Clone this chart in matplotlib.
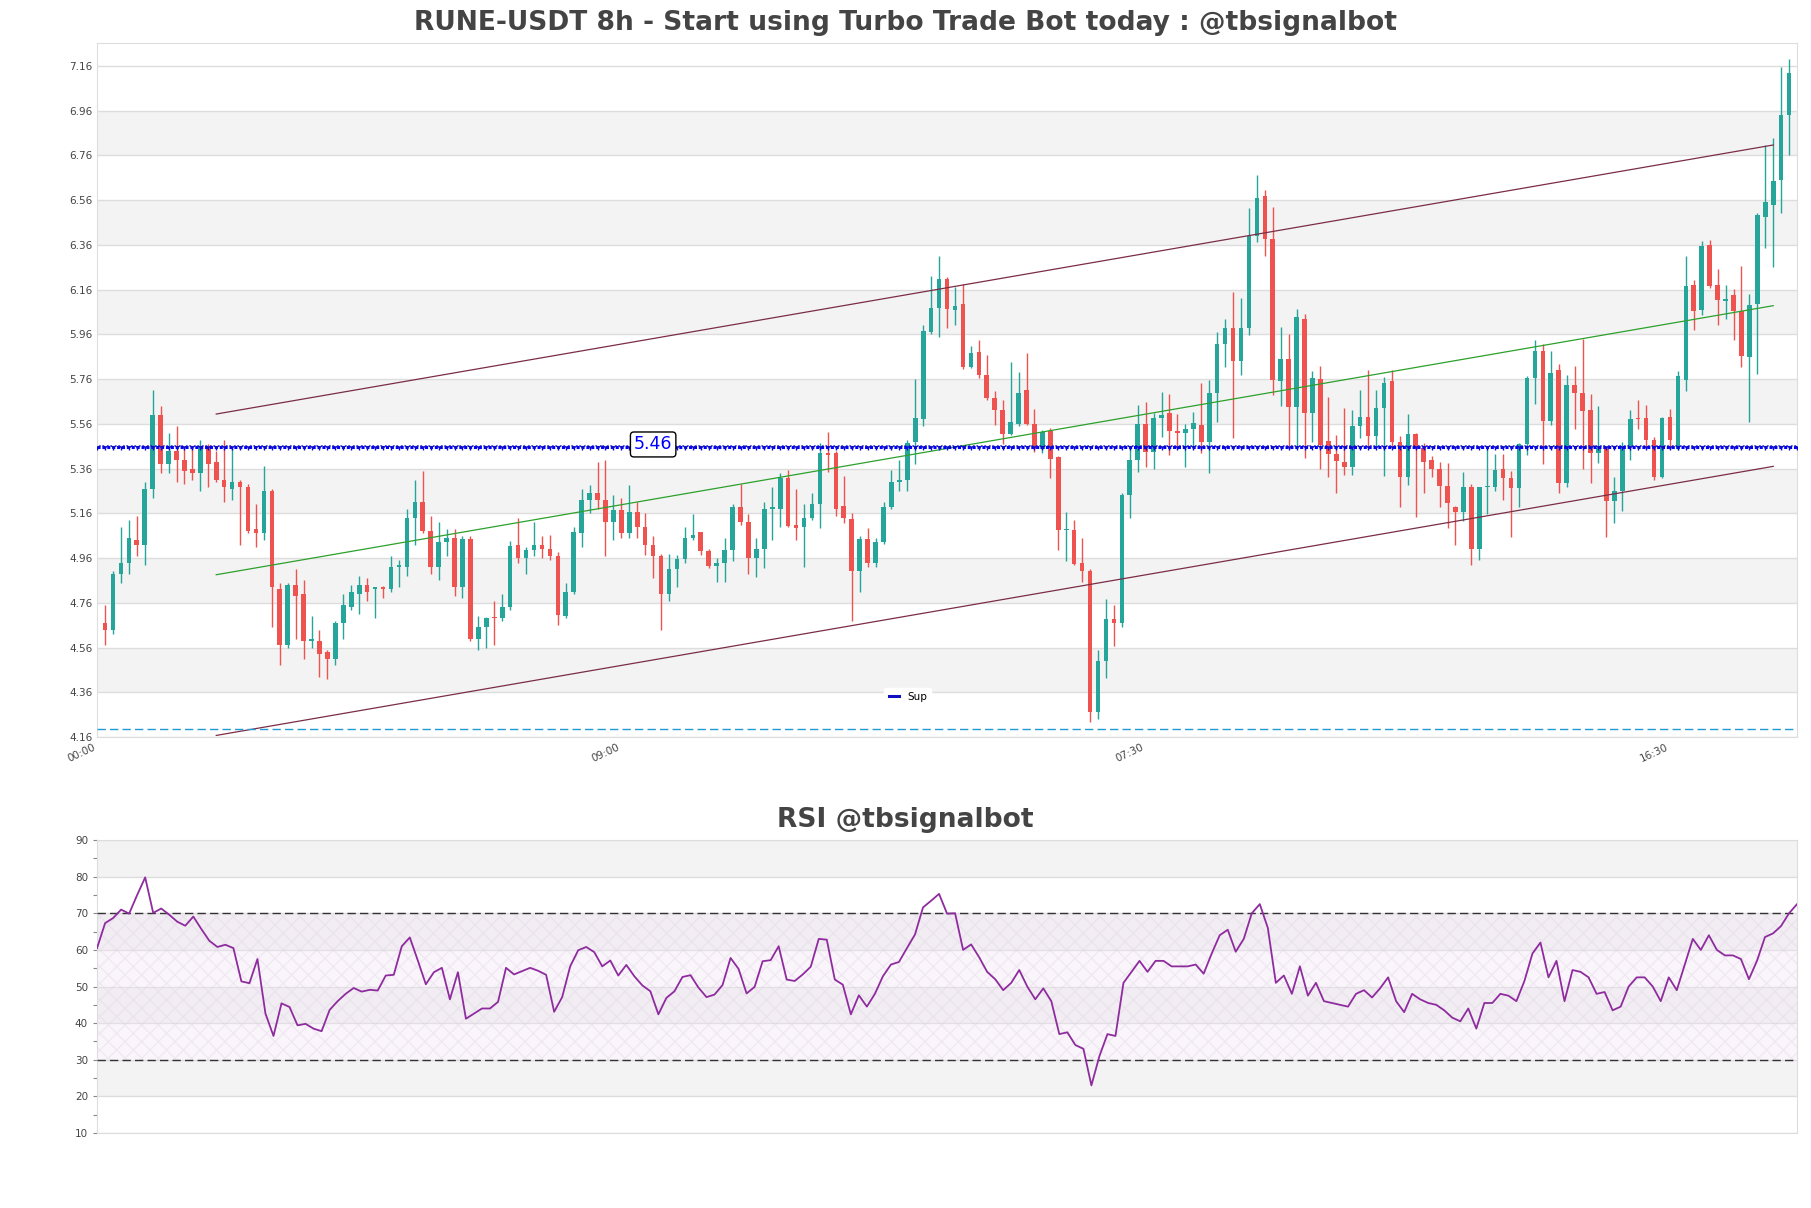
import numpy as np
import matplotlib
matplotlib.use("Agg")
import matplotlib.pyplot as plt
from matplotlib.lines import Line2D

# dane (swiece 8h)
opens = [4.67, 4.64, 4.89, 4.94, 5.04, 5.02, 5.27, 5.60, 5.38, 5.44,
         5.40, 5.36, 5.34, 5.46, 5.39, 5.31, 5.27, 5.30, 5.28, 5.09,
         5.07, 5.26, 4.82, 4.57, 4.84, 4.80, 4.59, 4.59, 4.54, 4.51,
         4.67, 4.74, 4.80, 4.84, 4.82, 4.83, 4.82, 4.92, 4.92, 5.14,
         5.21, 5.08, 4.92, 5.03, 5.05, 4.83, 5.045, 4.60, 4.65, 4.695,
         4.69, 4.74, 5.02, 4.96, 4.995, 5.02, 5.00, 4.97, 4.70, 4.81,
         5.07, 5.22, 5.25, 5.22, 5.12, 5.175, 5.07, 5.165, 5.10, 5.02,
         4.97, 4.80, 4.91, 4.955, 5.05, 5.075, 4.99, 4.925, 4.94, 4.995,
         5.19, 5.12, 4.96, 5.00, 5.18, 5.18, 5.32, 5.11, 5.10, 5.14,
         5.20, 5.43, 5.43, 5.195, 5.135, 4.90, 5.045, 4.94, 5.03, 5.19,
         5.30, 5.31, 5.48, 5.58, 5.97, 6.08, 6.21, 6.07, 6.095, 5.815,
         5.88, 5.78, 5.677, 5.62, 5.515, 5.56, 5.71, 5.56, 5.447, 5.528,
         5.41, 5.085, 5.085, 4.94, 4.90, 4.27, 4.50, 4.687, 4.67, 5.24,
         5.40, 5.56, 5.436, 5.588, 5.608, 5.526, 5.52, 5.536, 5.555, 5.48,
         5.697, 5.918, 5.99, 5.84, 5.99, 6.40, 6.58, 6.385, 5.75, 5.85,
         5.635, 6.03, 5.61, 5.76, 5.484, 5.426, 5.39, 5.366, 5.55, 5.59,
         5.506, 5.633, 5.75, 5.48, 5.324, 5.515, 5.45, 5.40, 5.36, 5.282,
         5.19, 5.165, 5.28, 5.00, 5.276, 5.276, 5.358, 5.32, 5.273, 5.47,
         5.766, 5.884, 5.575, 5.80, 5.294, 5.735, 5.70, 5.62, 5.43, 5.455,
         5.214, 5.258, 5.46, 5.585, 5.588, 5.488, 5.321, 5.593, 5.448, 5.754,
         6.183, 6.067, 6.358, 6.18, 6.11, 6.135, 6.064, 5.86, 6.097, 6.485,
         6.54, 6.65, 6.94]

closes = [4.64, 4.89, 4.94, 5.05, 5.02, 5.27, 5.60, 5.38, 5.44, 5.40,
          5.35, 5.34, 5.46, 5.38, 5.31, 5.28, 5.30, 5.28, 5.08, 5.07,
          5.26, 4.83, 4.57, 4.84, 4.79, 4.59, 4.595, 4.53, 4.51, 4.67,
          4.75, 4.81, 4.84, 4.81, 4.83, 4.82, 4.92, 4.925, 5.14, 5.21,
          5.08, 4.92, 5.03, 5.05, 4.83, 5.045, 4.60, 4.65, 4.69, 4.69,
          4.74, 5.015, 4.96, 4.995, 5.02, 5.00, 4.97, 4.705, 4.81, 5.075,
          5.22, 5.25, 5.22, 5.12, 5.175, 5.07, 5.165, 5.10, 5.02, 4.97,
          4.80, 4.91, 4.955, 5.05, 5.065, 4.99, 4.925, 4.94, 4.995, 5.19,
          5.12, 4.96, 5.00, 5.18, 5.19, 5.32, 5.105, 5.095, 5.14, 5.20,
          5.43, 5.42, 5.18, 5.14, 4.90, 5.047, 4.94, 5.03, 5.19, 5.30,
          5.31, 5.474, 5.585, 5.975, 6.08, 6.21, 6.074, 6.085, 5.815, 5.875,
          5.78, 5.677, 5.62, 5.517, 5.567, 5.70, 5.56, 5.447, 5.525, 5.403,
          5.086, 5.09, 4.933, 4.90, 4.27, 4.50, 4.687, 4.67, 5.242, 5.40,
          5.56, 5.436, 5.588, 5.60, 5.526, 5.52, 5.536, 5.563, 5.48, 5.697,
          5.918, 5.988, 5.84, 5.988, 6.40, 6.57, 6.387, 5.754, 5.85, 5.635,
          6.04, 5.61, 5.767, 5.466, 5.426, 5.392, 5.366, 5.55, 5.593, 5.506,
          5.633, 5.745, 5.48, 5.324, 5.515, 5.447, 5.39, 5.36, 5.282, 5.205,
          5.168, 5.28, 5.00, 5.276, 5.28, 5.354, 5.32, 5.273, 5.47, 5.766,
          5.884, 5.575, 5.787, 5.294, 5.732, 5.697, 5.617, 5.43, 5.453, 5.214,
          5.258, 5.463, 5.582, 5.58, 5.488, 5.321, 5.587, 5.488, 5.772, 6.175,
          6.064, 6.354, 6.175, 6.115, 6.12, 6.064, 5.862, 6.09, 6.493, 6.553,
          6.647, 6.94, 7.127]

highs = [4.75, 4.90, 5.10, 5.13, 5.15, 5.30, 5.71, 5.64, 5.52, 5.55,
         5.46, 5.46, 5.49, 5.47, 5.44, 5.49, 5.45, 5.31, 5.29, 5.20,
         5.37, 5.27, 4.85, 4.85, 4.91, 4.86, 4.70, 4.64, 4.55, 4.68,
         4.80, 4.84, 4.88, 4.87, 4.83, 4.835, 4.97, 4.95, 5.18, 5.31,
         5.35, 5.15, 5.12, 5.09, 5.09, 5.06, 5.06, 4.70, 4.695, 4.77,
         4.80, 5.035, 5.14, 5.01, 5.12, 5.06, 5.065, 4.985, 4.85, 5.10,
         5.27, 5.285, 5.39, 5.40, 5.24, 5.23, 5.285, 5.21, 5.16, 5.06,
         4.98, 4.98, 4.975, 5.10, 5.155, 5.075, 5.00, 4.96, 5.05, 5.20,
         5.29, 5.155, 5.05, 5.21, 5.28, 5.34, 5.355, 5.27, 5.20, 5.25,
         5.475, 5.525, 5.44, 5.325, 5.16, 5.06, 5.094, 5.05, 5.21, 5.356,
         5.40, 5.49, 5.76, 6.003, 6.22, 6.31, 6.215, 6.17, 6.187, 5.91,
         5.937, 5.87, 5.708, 5.666, 5.836, 5.79, 5.876, 5.627, 5.533, 5.54,
         5.416, 5.165, 5.13, 5.05, 4.91, 4.55, 4.776, 4.75, 5.25, 5.458,
         5.645, 5.657, 5.61, 5.702, 5.693, 5.603, 5.56, 5.612, 5.742, 5.757,
         5.973, 6.028, 6.15, 6.123, 6.526, 6.675, 6.605, 6.53, 5.993, 5.963,
         6.073, 6.053, 5.797, 5.82, 5.68, 5.51, 5.633, 5.623, 5.712, 5.802,
         5.712, 5.769, 5.80, 5.506, 5.605, 5.52, 5.476, 5.416, 5.39, 5.384,
         5.195, 5.344, 5.29, 5.28, 5.448, 5.426, 5.426, 5.35, 5.473, 5.776,
         5.936, 5.915, 5.888, 5.826, 5.78, 5.821, 5.94, 5.694, 5.642, 5.458,
         5.324, 5.478, 5.62, 5.668, 5.646, 5.50, 5.593, 5.627, 5.796, 6.309,
         6.202, 6.376, 6.381, 6.254, 6.18, 6.165, 6.264, 6.142, 6.503, 6.806,
         6.839, 7.154, 7.19]

lows = [4.57, 4.62, 4.85, 4.89, 4.97, 4.93, 5.23, 5.34, 5.34, 5.30,
        5.29, 5.31, 5.26, 5.28, 5.30, 5.21, 5.22, 5.02, 5.07, 5.01,
        5.04, 4.65, 4.48, 4.56, 4.60, 4.51, 4.56, 4.43, 4.42, 4.48,
        4.60, 4.73, 4.71, 4.77, 4.69, 4.78, 4.81, 4.83, 4.88, 5.02,
        5.07, 4.89, 4.86, 4.97, 4.79, 4.78, 4.59, 4.55, 4.56, 4.57,
        4.68, 4.73, 4.94, 4.89, 4.97, 4.96, 4.95, 4.66, 4.69, 4.80,
        5.01, 5.16, 5.18, 4.97, 5.04, 5.05, 5.05, 5.05, 4.975, 4.87,
        4.64, 4.77, 4.83, 4.94, 5.04, 4.975, 4.915, 4.855, 4.855, 4.945,
        5.11, 4.89, 4.875, 4.915, 5.04, 5.10, 5.10, 5.04, 4.92, 5.13,
        5.095, 5.345, 5.15, 5.115, 4.68, 4.81, 4.92, 4.92, 5.025, 5.18,
        5.26, 5.26, 5.38, 5.55, 5.96, 5.95, 5.99, 6.00, 5.807, 5.81,
        5.763, 5.666, 5.553, 5.47, 5.51, 5.552, 5.553, 5.435, 5.43, 5.32,
        4.995, 4.945, 4.927, 4.855, 4.225, 4.24, 4.425, 4.565, 4.65, 5.138,
        5.347, 5.366, 5.357, 5.503, 5.421, 5.447, 5.366, 5.46, 5.432, 5.339,
        5.57, 5.814, 5.496, 5.78, 5.958, 6.372, 6.312, 5.69, 5.64, 5.46,
        5.46, 5.406, 5.48, 5.36, 5.324, 5.25, 5.332, 5.332, 5.496, 5.458,
        5.46, 5.327, 5.458, 5.19, 5.287, 5.145, 5.25, 5.324, 5.187, 5.093,
        5.018, 5.127, 4.93, 4.95, 5.157, 5.258, 5.22, 5.055, 5.187, 5.423,
        5.65, 5.38, 5.557, 5.25, 5.276, 5.538, 5.358, 5.294, 5.384, 5.053,
        5.115, 5.169, 5.40, 5.538, 5.452, 5.309, 5.32, 5.448, 5.444, 5.706,
        5.981, 6.045, 6.169, 6.00, 6.03, 5.933, 5.814, 5.567, 5.784, 6.348,
        6.261, 6.503, 6.76]

rsi = [60.5, 67.3, 68.7, 71.0, 69.9, 75.0, 79.8, 70.1, 71.3, 69.6,
       67.7, 66.6, 69.1, 65.7, 62.5, 60.8, 61.4, 60.5, 51.4, 50.9,
       57.5, 42.6, 36.5, 45.4, 44.4, 39.4, 39.8, 38.5, 37.8, 43.6,
       46.0, 48.0, 49.6, 48.6, 49.1, 48.9, 53.0, 53.2, 61.0, 63.4,
       57.1, 50.6, 53.9, 55.1, 46.5, 53.9, 41.2, 42.6, 44.0, 44.0,
       45.8, 55.1, 53.3, 54.2, 55.1, 54.3, 53.2, 43.1, 47.1, 55.5,
       59.9, 60.8, 59.4, 55.5, 57.1, 53.0, 55.9, 52.8, 50.3, 48.7,
       42.4, 46.9, 48.7, 52.6, 53.1, 49.7, 47.1, 47.8, 50.4, 57.8,
       54.8, 48.1, 49.9, 56.9, 57.2, 61.0, 51.9, 51.5, 53.3, 55.4,
       63.0, 62.8, 51.9, 50.5, 42.4, 47.6, 44.5, 48.0, 52.8, 56.0,
       56.7, 60.5, 64.2, 71.6, 73.4, 75.3, 69.9, 70.0, 60.0, 61.5,
       58.0, 54.0, 52.0, 49.0, 51.0, 54.5, 50.0, 46.5, 49.5, 46.0,
       37.0, 37.5, 34.0, 33.0, 23.0, 31.0, 37.0, 36.5, 51.0, 54.0,
       57.0, 54.0, 57.0, 57.0, 55.5, 55.5, 55.5, 56.0, 53.5, 59.0,
       64.0, 65.5, 59.5, 63.0, 70.0, 72.5, 66.0, 51.0, 53.0, 48.0,
       55.5, 47.5, 51.0, 46.0, 45.5, 45.0, 44.5, 48.0, 49.0, 47.0,
       49.5, 52.5, 46.0, 43.0, 48.0, 46.5, 45.5, 45.0, 43.5, 41.5,
       40.5, 44.0, 38.5, 45.5, 45.5, 48.0, 47.5, 46.0, 51.5, 59.0,
       62.0, 52.5, 57.0, 46.0, 54.5, 54.0, 52.5, 48.0, 48.5, 43.5,
       44.5, 50.0, 52.5, 52.5, 50.0, 46.0, 52.5, 49.0, 56.0, 63.0,
       60.0, 64.0, 60.0, 58.5, 58.5, 57.5, 52.0, 57.0, 63.5, 64.5,
       66.5, 70.0, 72.5]

tick_pos = [-1, 65, 131, 197]
tick_labels = ['00:00', '09:00', '07:30', '16:30']

sup_level = 5.456
low_level = 4.197
kanal_x = [14, 210]
kanal_gora = [5.604, 6.807]
kanal_dol = [4.167, 5.37]

UP = '#26a69a'
DOWN = '#ef5350'
PAS = '#f3f3f3'
SIATKA = '#dddddd'


def rysuj():
    fig = plt.figure(figsize=(18.11, 12.08), dpi=100)
    ax = fig.add_axes([0.0536, 0.3899, 0.9387, 0.5743])
    ax2 = fig.add_axes([0.0536, 0.0621, 0.9387, 0.2425])

    o = np.array(opens)
    c = np.array(closes)
    h = np.array(highs)
    l = np.array(lows)
    n = len(o)
    x = np.arange(n)

    ymin = l.min() * 0.985
    ymax = h.max() * 1.01
    yt = np.round(ymin + 0.2 * np.arange(16), 2)

    for k in range(1, len(yt) - 1, 2):
        ax.axhspan(yt[k], yt[k + 1], color=PAS, zorder=0, linewidth=0)
    for v in yt:
        ax.axhline(v, color=SIATKA, linewidth=1, zorder=0.5)

    kolory = np.where(c >= o, UP, DOWN)
    ax.vlines(x, l, h, colors=kolory, linewidth=1.0, zorder=2)
    body = np.maximum(np.abs(c - o), 0.007)
    ax.bar(x, body, bottom=np.minimum(o, c), width=0.58, color=kolory,
           linewidth=0, zorder=3)

    # kanal trendu
    srodek = [(a + b) / 2 for a, b in zip(kanal_gora, kanal_dol)]
    ax.plot(kanal_x, kanal_gora, color='#7b2d45', linewidth=0.9, zorder=4)
    ax.plot(kanal_x, kanal_dol, color='#7b2d45', linewidth=0.9, zorder=4)
    ax.plot(kanal_x, srodek, color='#2ca02c', linewidth=0.9, zorder=4)

    # linia wsparcia na cala szerokosc osi
    xs = np.arange(-1, n + 1)
    ax.plot(xs, [sup_level] * len(xs), color='blue', linestyle=(0, (1, 0.6)),
            linewidth=2.2, zorder=5)
    ax.plot(xs, [sup_level] * len(xs), color='#1010c0', linestyle='none',
            marker='1', markersize=5, markeredgewidth=1.0, zorder=5)
    ax.axhline(low_level, color='#1f9ad6', linestyle='--', linewidth=1,
               dashes=(6, 3), zorder=4)
    ax.text(69, sup_level + 0.012, '5.46', color='blue',
            fontsize=12.5, ha='center', va='center', zorder=6,
            bbox=dict(boxstyle='round,pad=0.2', facecolor='white',
                      edgecolor='black', linewidth=1))

    ax.set_xlim(-1, n)
    ax.set_ylim(ymin, ymax)
    ax.set_yticks(yt)
    ax.set_yticklabels([f'{v:.2f}' for v in yt])
    ax.set_xticks(tick_pos)
    ax.set_xticklabels(tick_labels, rotation=25, ha='right')
    ax.tick_params(axis='both', length=0, labelsize=7.5, colors='#444444')
    for s in ax.spines.values():
        s.set_color(SIATKA)

    uchwyt = Line2D([0], [0], color='#1010c0', linewidth=2.2)
    ax.legend(handles=[uchwyt], labels=['Sup'], loc='center',
              bbox_to_anchor=(0.477, 0.058), fontsize=7.5, frameon=True,
              framealpha=1, edgecolor='white', handlelength=1.0)

    # RSI
    for lo, hi in [(20, 30), (40, 50), (60, 70), (80, 90)]:
        ax2.axhspan(lo, hi, color=PAS, zorder=0, linewidth=0)
    for v in range(10, 91, 10):
        ax2.axhline(v, color=SIATKA, linewidth=1, zorder=0.5)
    ax2.fill_between([0, n - 1], 30, 70, facecolor='#f1e4f4', alpha=0.35,
                     hatch='xx', edgecolor='#ddd2e2', linewidth=0, zorder=1)
    ax2.axhline(70, color='#333333', linestyle='--', linewidth=1,
                dashes=(6, 3), zorder=3)
    ax2.axhline(30, color='#333333', linestyle='--', linewidth=1,
                dashes=(6, 3), zorder=3)
    ax2.plot(x, rsi, color='#8e2c9e', linewidth=1.3, zorder=4)
    ax2.set_xlim(0, n - 1)
    ax2.set_ylim(10, 90)
    ax2.set_yticks(range(10, 91, 10))
    ax2.set_yticks(range(15, 90, 10), minor=True)
    ax2.set_xticks([])
    ax2.tick_params(axis='y', which='both', length=3, width=0.8,
                    color='#888888', labelsize=7.5, labelcolor='#444444')
    for s in ax2.spines.values():
        s.set_color(SIATKA)

    fig.text(0.5, 0.981,
             'RUNE-USDT 8h - Start using Turbo Trade Bot today : @tbsignalbot',
             ha='center', va='center', fontsize=19.1, fontweight='bold',
             color='#444444')
    fig.text(0.5, 0.321, 'RSI @tbsignalbot', ha='center', va='center',
             fontsize=19.1, fontweight='bold', color='#444444')

    fig.savefig('out.png', dpi=100)


rysuj()
